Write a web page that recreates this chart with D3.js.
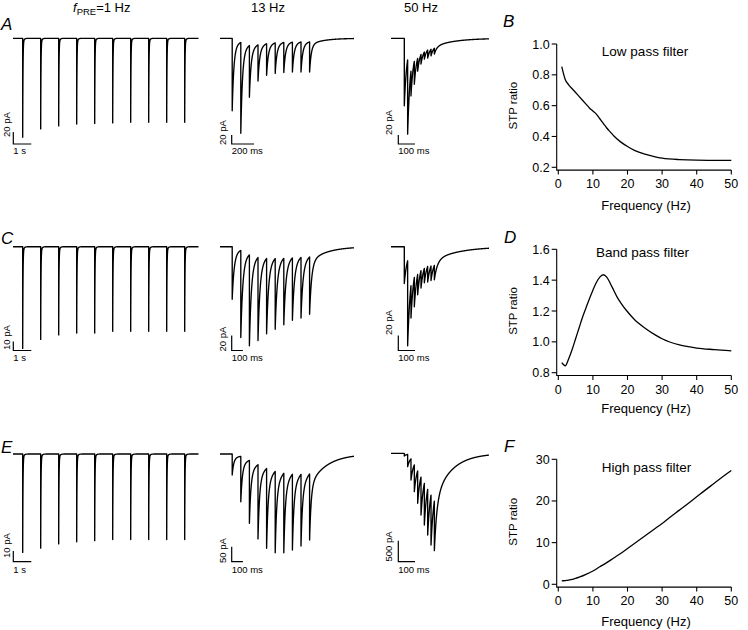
<!DOCTYPE html>
<html><head><meta charset="utf-8">
<script src="https://cdn.jsdelivr.net/npm/d3@7"></script>
<style>
body{margin:0;background:#fff}
text{font-family:"Liberation Sans",Arial,Helvetica,sans-serif;fill:#000}
</style>
</head><body>
<svg id="fig" width="748" height="630"></svg>
<script>
// ================= DATA =================
// stimulation frequencies of the three trace columns (Hz)
const stimFreqs = [1, 13, 50];
const pulseNumbers = [1,2,3,4,5,6,7,8,9,10];
// EPSC trough level (pA, relative to baseline) at each of the 10 pulses
const troughA1  = [-165,-151,-146,-143,-142,-141,-140,-140,-140,-140];
const troughA13 = [-161,-211,-131,-95,-82,-78,-76,-75,-75,-75];
const troughA50 = [-150,-213,-128,-102,-73,-57,-46,-44,-39,-35];
const troughC1  = [-113,-103,-98,-96,-96,-94,-94,-94,-94,-94];
const troughC13 = [-70,-121,-132,-125,-116,-110,-104,-98,-95,-90];
const troughC50 = [-49,-132,-95,-80,-64,-55,-48,-47,-45,-44];
const troughE1  = [-92,-88,-84,-82,-81,-80,-80,-80,-80,-80];
const troughE13 = [-70,-159,-231,-283,-314,-329,-329,-320,-307,-287];
const troughE50 = [-64,-319,-636,-914,-1190,-1469,-1707,-1945,-2183,-2319];
// scale bars
const scaleBarAmp = {A1:20, A13:20, A50:20, C1:10, C13:20, C50:20, E1:10, E13:50, E50:500}; // pA
const scaleBarTime = {A1:1000, A13:200, A50:100, C1:1000, C13:100, C50:100, E1:1000, E13:100, E50:100}; // ms
const scaleAmpLabels = {A1:"20 pA", A13:"20 pA", A50:"20 pA", C1:"10 pA", C13:"20 pA", C50:"20 pA", E1:"10 pA", E13:"50 pA", E50:"500 pA"};
const scaleTimeLabels = {A1:"1 s", A13:"200 ms", A50:"100 ms", C1:"1 s", C13:"100 ms", C50:"100 ms", E1:"1 s", E13:"100 ms", E50:"100 ms"};

// STP ratio vs frequency curves
const freqB = [1,2,3,4,5,6,7,8,9,10,11,12,13,14,15,16,18,20,22,25,28,30,35,40,45,50];
const stpB  = [0.853,0.77,0.735,0.71,0.685,0.66,0.635,0.61,0.585,0.565,0.545,0.515,0.485,0.455,0.43,0.405,0.365,0.335,0.31,0.285,0.268,0.26,0.25,0.246,0.245,0.245];
const freqD = [1,2,3,4,5,6,7,8,9,10,11,12,13,14,15,16,17,18,20,22,25,28,30,35,40,45,50];
const stpD  = [0.865,0.845,0.89,0.95,1.02,1.09,1.16,1.22,1.28,1.335,1.385,1.42,1.435,1.42,1.38,1.335,1.29,1.255,1.195,1.145,1.09,1.045,1.02,0.98,0.96,0.95,0.942];
const freqF = [1,2,3,4,5,6,8,10,12,14,16,18,20,22,25,28,30,32,35,38,40,42,45,48,50];
const stpF  = [0.8,0.9,1.0,1.2,1.4,1.7,2.4,3.2,4.2,5.2,6.3,7.4,8.6,9.8,11.6,13.4,14.6,15.9,17.8,19.7,21.0,22.3,24.2,26.1,27.3];
const ticksFreq = [0,10,20,30,40,50];
const ticksB = [0.2,0.4,0.6,0.8,1.0];
const ticksD = [0.8,1.0,1.2,1.4,1.6];
const ticksF = [0,10,20,30];
const titles = {B:"Low pass filter", D:"Band pass filter", F:"High pass filter"};
const colHeads = ["13 Hz","50 Hz"];

// ================= LAYOUT =================
const svg = d3.select("#fig");
const FONT_SMALL = 9.5;

// column geometry: x of trace start, first pulse, end; px per ms
const cols = {
  1:  {xs:13,  xp:22.7,  xe:198.5, k:0.018,  barX:13.3},
  13: {xs:220, xp:232.2, xe:354,   k:0.1118, barX:231.7},
  50: {xs:391, xp:404.3, xe:489,   k:0.167,  barX:398.3}
};
// rows: baseline y, scale bar bottom y, time label baseline
const rows = {
  A:{base:38.3, barY:144,   tY:153.5},
  C:{base:246.7,barY:350.5, tY:360.5},
  E:{base:454,  barY:561.7, tY:573}
};
// px per pA per panel
const pxPerPA = {A1:0.6, A13:0.45, A50:0.45, C1:0.9, C13:0.75, C50:0.75, E1:1.07, E13:0.3, E50:0.042};
// kinetics (ms) per panel
const kinetics = {
  A1:{tf:15,ts:60,wf:0.95}, C1:{tf:15,ts:60,wf:0.95}, E1:{tf:15,ts:60,wf:0.95},
  A13:{tf:15,ts:120,wf:0.9}, A50:{tf:15,ts:120,wf:0.9},
  C13:{tf:18,ts:150,wf:0.9},  C50:{tf:18,ts:150,wf:0.9},
  E13:{tf:14,ts:150,wf:0.82}, E50:{tf:15,ts:100,wf:0.75}
};
// amplitude label placement (x baseline of rotated text, bottom y)
const ampLabelPos = {
  A1:[10,137], A13:[226,145], A50:[392,135],
  C1:[10,350], C13:[226,351.5], C50:[392,335],
  E1:[10,558], E13:[226,563], E50:[392,561.5]
};
const troughs = {A1:troughA1,A13:troughA13,A50:troughA50,C1:troughC1,C13:troughC13,C50:troughC50,E1:troughE1,E13:troughE13,E50:troughE50};

function kern(t,k){ return k.wf*Math.exp(-t/k.tf) + (1-k.wf)*Math.exp(-t/k.ts); }
function buildTrace(pulses, tr, kin, t0, t1, dt){
  const amps=[];
  const val=(t,n)=>{let s=0; for(let j=0;j<n;j++){ if(t>=pulses[j]) s+=amps[j]*kern(t-pulses[j],kin);} return s;};
  pulses.forEach((tp,i)=>amps.push(tr[i]-val(tp,i)));
  const times=d3.range(t0,t1,dt).concat([t1]);
  pulses.forEach(tp=>{times.push(tp-1e-6); times.push(tp);});
  times.sort((a,b)=>a-b);
  return times.map(t=>[t,val(t,amps.length)]);
}

["A","C","E"].forEach(r=>{
  stimFreqs.forEach(hz=>{
    const key=r+hz, c=cols[hz], row=rows[r];
    const base = (key==="E50")?453.3:row.base;
    const t0=(c.xs-c.xp)/c.k, t1=(c.xe-c.xp)/c.k;
    const x=d3.scaleLinear().domain([t0,t1]).range([c.xs,c.xe]);
    const y=d3.scaleLinear().domain([0,-100]).range([base, base+100*pxPerPA[key]]);
    const period=1000/hz;
    const pulses=pulseNumbers.map(n=>(n-1)*period);
    const data=buildTrace(pulses, troughs[key], kinetics[key], t0, t1, hz===1?2:0.25);
    svg.append("path").datum(data)
      .attr("d", d3.line().x(d=>x(d[0])).y(d=>y(d[1])))
      .attr("fill","none").attr("stroke","#000").attr("stroke-width",1.35).attr("stroke-linejoin","round");
    // scale bar
    const vLen = y(-scaleBarAmp[key]) - y(0);
    const hLen = x(t0+scaleBarTime[key]) - x(t0);
    svg.append("path")
      .attr("d", `M${c.barX},${row.barY-vLen}V${row.barY}H${c.barX+hLen}`)
      .attr("fill","none").attr("stroke","#000").attr("stroke-width",1.2);
    const [lx,ly]=ampLabelPos[key];
    svg.append("text").attr("transform",`translate(${lx},${ly}) rotate(-90)`)
      .attr("font-size",FONT_SMALL).text(scaleAmpLabels[key]);
    svg.append("text").attr("x",c.barX).attr("y",row.tY).attr("font-size",FONT_SMALL).text(scaleTimeLabels[key]);
  });
});

// column headers
const head = svg.append("text").attr("x",73).attr("y",12).attr("font-size",13);
head.append("tspan").attr("font-style","italic").text("f");
head.append("tspan").attr("font-size",9.5).attr("dy",3).text("PRE");
head.append("tspan").attr("dy",-3).text("=1 Hz");
svg.append("text").attr("x",268).attr("y",12).attr("text-anchor","middle").attr("font-size",13).text(colHeads[0]);
svg.append("text").attr("x",421).attr("y",12).attr("text-anchor","middle").attr("font-size",13).text(colHeads[1]);

// panel letters
[["A",1,30],["C",1,244],["E",1,453],["B",503,27],["D",504,243],["F",504,452]].forEach(([t,x,y])=>{
  svg.append("text").attr("x",x).attr("y",y).attr("font-size",17).attr("font-style","italic").text(t);
});

// ================= STP charts =================
function stpChart(cfg){
  const x=d3.scaleLinear().domain([0,50]).range([558.3,731.3]);
  const y=d3.scaleLinear().domain(cfg.ydom).range(cfg.yrange);
  const axX = x(0)-1.6, axY = y(cfg.ydom[0])+2.8;
  const g=svg.append("g");
  g.append("path").attr("d",`M${axX},${y(cfg.ydom[1])}V${axY}H${x(50)}`)
    .attr("fill","none").attr("stroke","#000").attr("stroke-width",1.1);
  cfg.yticks.forEach(v=>{
    g.append("line").attr("x1",axX-5).attr("x2",axX).attr("y1",y(v)).attr("y2",y(v)).attr("stroke","#000").attr("stroke-width",1.1);
    g.append("text").attr("x",axX-7).attr("y",y(v)+4.5).attr("text-anchor","end").attr("font-size",12.5).text(cfg.fmt(v));
  });
  ticksFreq.forEach(v=>{
    g.append("line").attr("x1",x(v)).attr("x2",x(v)).attr("y1",axY).attr("y2",axY+4.5).attr("stroke","#000").attr("stroke-width",1.1);
    g.append("text").attr("x",x(v)).attr("y",axY+18).attr("text-anchor","middle").attr("font-size",12.5).text(v);
  });
  g.append("text").attr("x",646).attr("y",cfg.xlabY).attr("text-anchor","middle").attr("font-size",13).text("Frequency (Hz)");
  g.append("text").attr("transform",`translate(516.5,${(cfg.yrange[0]+cfg.yrange[1])/2}) rotate(-90)`)
    .attr("text-anchor","middle").attr("font-size",11.5).text("STP ratio");
  g.append("text").attr("x",cfg.titleX).attr("y",cfg.titleY).attr("text-anchor","middle").attr("font-size",13.5).text(cfg.title);
  g.append("path").datum(cfg.fx.map((f,i)=>[f,cfg.vals[i]]))
    .attr("d",d3.line().curve(d3.curveMonotoneX).x(d=>x(d[0])).y(d=>y(d[1])))
    .attr("fill","none").attr("stroke","#000").attr("stroke-width",1.3);
}
stpChart({ydom:[0.2,1.0], yrange:[167.3,44], yticks:ticksB, fmt:d3.format(".1f"), xlabY:209.5, title:titles.B, titleX:645, titleY:55.5, fx:freqB, vals:stpB});
stpChart({ydom:[0.8,1.6], yrange:[372.7,249.3], yticks:ticksD, fmt:d3.format(".1f"), xlabY:413, title:titles.D, titleX:642.5, titleY:256.5, fx:freqD, vals:stpD});
stpChart({ydom:[0,30], yrange:[584.3,459.3], yticks:ticksF, fmt:d3.format("d"), xlabY:626, title:titles.F, titleX:646.5, titleY:471.5, fx:freqF, vals:stpF});
</script>
</body></html>
